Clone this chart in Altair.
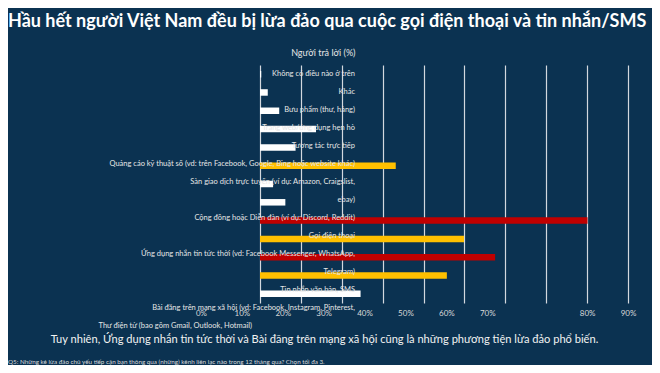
import altair as alt
import pandas as pd

title_text = "Hầu hết người Việt Nam đều bị lừa đảo qua cuộc gọi điện thoại và tin nhắn/SMS"
subtitle_text = "Tuy nhiên, Ứng dụng nhắn tin tức thời và Bài đăng trên mạng xã hội cũng là những phương tiện lừa đảo phổ biến."
footnote_text = "Q5: Những kẻ lừa đảo chủ yếu tiếp cận bạn thông qua (những) kênh liên lạc nào trong 12 tháng qua? Chọn tối đa 3."
axis_title = "Người trả lời (%)"

# bars, top to bottom (percent of respondents)
bar_values = [0.3, 1.9, 4.7, 13.7, 8.7, 33.2, 3.2, 6.2, 80.1, 49.9, 57.5, 45.7, 24.6]
bar_tiers = ["low", "low", "low", "low", "low", "mid", "low", "low",
             "high", "mid", "high", "mid", "low"]

# category label lines, top to bottom
label_lines = [
    "Không có điều nào ở trên",
    "Khác",
    "Bưu phẩm (thư, hàng)",
    "Trang web/ứng dụng hẹn hò",
    "Tương tác trực tiếp",
    "Quảng cáo kỹ thuật số (vd: trên Facebook, Google, Bing hoặc website khác)",
    "Sàn giao dịch trực tuyến (ví dụ: Amazon, Craigslist,",
    "ebay)",
    "Cộng đồng hoặc Diễn đàn (ví dụ: Discord, Reddit)",
    "Gọi điện thoại",
    "Ứng dụng nhắn tin tức thời (vd: Facebook Messenger, WhatsApp,",
    "Telegram)",
    "Tin nhắn văn bản, SMS",
    "Bài đăng trên mạng xã hội (vd: Facebook, Instagram, Pinterest,",
]
email_line = "Thư điện tử (bao gồm Gmail, Outlook, Hotmail)"

tick_values = [0, 10, 20, 30, 40, 50, 60, 70, 80, 90]
tier_domain = ["low", "mid", "high"]
tier_colors = ["#ffffff", "#ffc000", "#c00000"]

BG = "#0b3251"
FONT = "Lato"
TXT = "#e6e6e6"

bars_df = pd.DataFrame({"row": list(range(len(bar_values))),
                        "value": bar_values, "tier": bar_tiers})
labels_df = pd.DataFrame({"i": list(range(len(label_lines))), "text": label_lines})
email_df = pd.DataFrame({"i": [len(label_lines)], "text": [email_line]})
sub_df = pd.DataFrame({"text": [subtitle_text]})
foot_df = pd.DataFrame({"text": [footnote_text]})

x_enc = alt.X(
    "value:Q",
    scale=alt.Scale(domain=[0, 90], nice=False, zero=True),
    axis=alt.Axis(
        values=tick_values,
        labelExpr="datum.value + '%'",
        grid=True, gridColor="#d3d8de", gridWidth=1.2,
        domain=False, ticks=False,
        labelColor="#d9d9d9", labelFontSize=8, labelFont=FONT,
        labelPadding=6, labelFlush=False, labelOverlap=False,
        labelOffset={"condition": {"test": "datum.value <= 70", "value": -59}, "value": 0},
        title=axis_title, titleX=95, titleY=-251, titleAlign="right",
        titleBaseline="middle", titleColor=TXT, titleFontSize=9,
        titleFontWeight="normal", titleFont=FONT,
    ),
)

bars = alt.Chart(bars_df).mark_bar(size=6.5).encode(
    x=x_enc,
    y=alt.Y("row:O", axis=None,
            scale=alt.Scale(paddingInner=0, paddingOuter=0)),
    color=alt.Color("tier:N", scale=alt.Scale(domain=tier_domain, range=tier_colors),
                    legend=None),
)

label_y = alt.Y("i:Q", axis=None,
                scale=alt.Scale(domain=[-0.5, 12.72], reverse=True, nice=False, zero=False))

labels = alt.Chart(labels_df).mark_text(
    align="right", baseline="middle", fontSize=7.5, font=FONT, color=TXT
).encode(x=alt.value(95), y=label_y, text="text:N")

email = alt.Chart(email_df).mark_text(
    align="right", baseline="middle", fontSize=7.5, font=FONT, color=TXT
).encode(x=alt.value(-8), y=label_y, text="text:N")

subtitle = alt.Chart(sub_df).mark_text(
    align="center", baseline="middle", fontSize=11.1, font=FONT, color="#f2f2f2"
).encode(x=alt.value(64.5), y=alt.value(275), text="text:N")

footnote = alt.Chart(foot_df).mark_text(
    align="left", baseline="middle", fontSize=6.3, font=FONT, color="#d9d9d9"
).encode(x=alt.value(-252), y=alt.value(297), text="text:N")

chart = alt.layer(bars, labels, email, subtitle, footnote).resolve_scale(
    y="independent"
).properties(
    width=368, height=238,
    background=BG,
    autosize=alt.AutoSizeParams(type="none"),
    padding={"left": 252, "top": 57, "right": 24, "bottom": 62},
    title=alt.TitleParams(title_text, anchor="start", frame="group", dx=-252, dy=-17,
                          offset=0, fontSize=18, font=FONT, fontWeight="bold",
                          color="#ffffff"),
).configure_view(stroke=None)

chart.save("out.html", embed_options={"renderer": "svg", "actions": False})
